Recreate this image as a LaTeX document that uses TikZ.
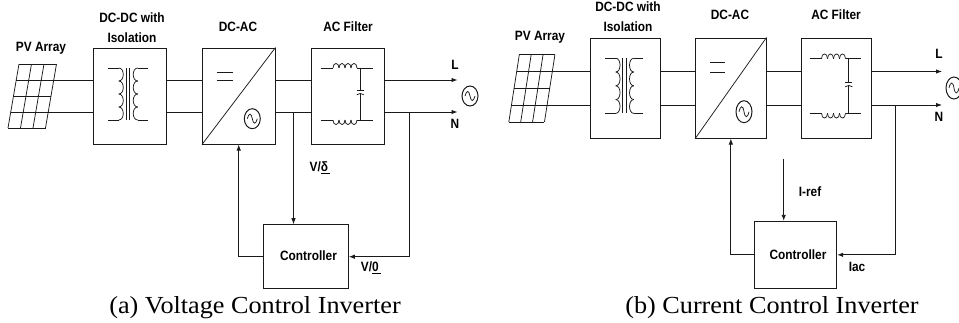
\documentclass[tikz,border=0pt]{standalone}
\usepackage{fontspec}
\setmainfont[FakeStretch=1.07]{Liberation Serif}
\setsansfont[FakeStretch=0.88]{Liberation Sans}
\usepackage{xcolor}
\usetikzlibrary{arrows.meta}
\definecolor{ink}{HTML}{1A1A1A}
\tikzset{
  wire/.style={draw=ink, line width=1pt},
  thinwire/.style={draw=ink, line width=0.75pt},
  feedwire/.style={draw=ink, line width=0.9pt, -{Latex[length=6pt,width=4.5pt]}},
  blockbox/.style={draw=ink, line width=1pt, inner sep=0pt},
  lbl/.style={text=black, font=\sffamily\bfseries\fontsize{13.5}{14}\selectfont, inner sep=0pt},
  sublbl/.style={lbl, font=\sffamily\bfseries\fontsize{13.5}{14}\selectfont},
  caption/.style={text=black, font=\fontsize{24.5}{26}\selectfont, inner sep=0pt, anchor=base},
  pvpanel/.pic={
    \foreach \i in {0,1,2,3}
      \draw[thinwire] ({12.5*\i},0) -- ({12.5*\i-11},64);
    \foreach \j in {0,1,2,3,4}
      \draw[thinwire] ({-11*\j/4},{16*\j}) -- ({37.5-11*\j/4},{16*\j});
  },
  xformer/.pic={
    \draw[thinwire] (-20,-26) -- (-9,-26);
    \draw[thinwire] (-20,26) -- (-9,26);
    \draw[thinwire] (20,-26) -- (10,-26);
    \draw[thinwire] (20,26) -- (10,26);
    \foreach \k in {0,1,2,3} {
      \draw[thinwire] (-9,{-26+13*\k}) .. controls (-3,{-26+13*\k}) and (-3,{-13+13*\k}) .. (-9,{-13+13*\k});
      \draw[thinwire] (10,{-26+13*\k}) .. controls (4,{-26+13*\k}) and (4,{-13+13*\k}) .. (10,{-13+13*\k});
    }
    \draw[thinwire] (-1.75,-26) -- (-1.75,26);
    \draw[thinwire] (1.75,-26) -- (1.75,26);
  },
  lcfilter/.pic={
    \draw[thinwire] (-27,-26) -- (-15,-26);
    \draw[thinwire] (9,-26) -- (24.7,-26);
    \draw[thinwire] (-27,26) -- (-15,26);
    \draw[thinwire] (9,26) -- (24.7,26);
    \foreach \k in {0,1,2,3} {
      \draw[thinwire] ({-15+6*\k},-26) .. controls ({-15+6*\k},-32) and ({-9+6*\k},-32) .. ({-9+6*\k},-26);
      \draw[thinwire] ({-15+6*\k},26) .. controls ({-15+6*\k},32) and ({-9+6*\k},32) .. ({-9+6*\k},26);
    }
    \draw[thinwire] (12.3,-26) -- (12.3,-3.5);
    \draw[thinwire] (8.7,-3.5) -- (15.9,-3.5);
    \draw[thinwire] (8.7,0.8) .. controls (11,-1) and (13.6,-1) .. (15.9,0.8);
    \draw[thinwire] (12.3,-0.4) -- (12.3,26);
  },
  acsource/.pic={
    \draw[wire] (0,0) ellipse (8 and 10);
    \draw[thinwire] (-5,0) .. controls (-3.5,-6) and (-1,-6) .. (0,0) .. controls (1,6) and (3.5,6) .. (5,0);
  }
}
\begin{document}
\begin{tikzpicture}[x=1pt,y=-1pt]
  \useasboundingbox (0,0) rectangle (959,322);

  % (a) voltage control
  \node[blockbox, minimum width=73pt, minimum height=96pt] (dcdcA) at (129.5,96) {};
  \node[blockbox, minimum width=72.5pt, minimum height=96pt] (dcacA) at (238.75,96) {};
  \node[blockbox, minimum width=73pt, minimum height=96pt] (filterA) at (348,96) {};
  \node[blockbox, minimum width=85pt, minimum height=64pt] (ctrlA) at (305.8,256.7) {};

  \coordinate (pvhiA) at (52.5,80);
  \coordinate (pvloA) at (47,112);
  \coordinate (lineA) at (457.5,80);
  \coordinate (neutA) at (457.5,112);
  \coordinate (tapA) at (293.5,112);
  \coordinate (fbkA) at (409.5,112);

  \pic at (19,64) {pvpanel};
  \pic at (127.75,94) {xformer};
  \pic at (348,94) {lcfilter};
  \pic at (252.3,118.7) {acsource};
  \pic at (470,96) {acsource};

  \draw[thinwire] (dcacA.south west) -- (dcacA.north east);
  \draw[thinwire] (217.3,72) -- (233.3,72);
  \draw[thinwire] (217.3,80.7) -- (233.3,80.7);

  \draw[wire] (pvhiA) -- (pvhiA -| dcdcA.west);
  \draw[wire] (pvloA) -- (pvloA -| dcdcA.west);
  \draw[wire] (dcdcA.east |- pvhiA) -- (dcacA.west |- pvhiA);
  \draw[wire] (dcdcA.east |- pvloA) -- (dcacA.west |- pvloA);
  \draw[wire] (dcacA.east |- pvhiA) -- (filterA.west |- pvhiA);
  \draw[wire] (dcacA.east |- pvloA) -- (filterA.west |- pvloA);
  \draw[feedwire] (filterA.east |- lineA) -- (lineA);
  \draw[feedwire] (filterA.east |- neutA) -- (neutA);
  \draw[feedwire] (tapA) -- (tapA |- ctrlA.north);
  \draw[feedwire] (ctrlA.west) -| (dcacA.south);
  \draw[feedwire] (fbkA) |- (ctrlA.east);

  \node[lbl] (pvA) at (41,48) {PV Array};
  \node[lbl] (isoA) at (132,18) {DC-DC with};
  \node[lbl] (isoB) at (132,38) {Isolation};
  \node[lbl] (invA) at (238,27) {DC-AC};
  \node[lbl] (acfA) at (348,27) {AC Filter};
  \node[lbl] (llA) at (455,65) {L};
  \node[lbl] (nnA) at (455,124) {N};
  \node[sublbl] (vdA) at (320,168) {V/\underline{δ\,}};
  \node[sublbl] (vzA) at (371,268) {V/\underline{0\,}};
  \node[sublbl] (ctA) at (308.5,256) {Controller};
  \node[caption] (capA) at (255,313) {(a) Voltage Control Inverter};

  % (b) current control
  \node[blockbox, minimum width=70.5pt, minimum height=100pt] (dcdcB) at (625.25,88) {};
  \node[blockbox, minimum width=70.3pt, minimum height=100pt] (dcacB) at (730.85,88) {};
  \node[blockbox, minimum width=70.4pt, minimum height=100pt] (filterB) at (836.5,88) {};
  \node[blockbox, minimum width=82.4pt, minimum height=67pt] (ctrlB) at (795.5,254.8) {};

  \coordinate (pvhiB) at (552,71.5);
  \coordinate (pvloB) at (546,105);
  \coordinate (lineB) at (942,71.5);
  \coordinate (neutB) at (942,105);
  \coordinate (fbkB) at (895,105);
  \coordinate (irefB) at (783.7,159);

  \pic[xscale=0.95,yscale=1.05] at (519.3,54.7) {pvpanel};
  \pic[xscale=0.95,yscale=1.06] at (624.3,85.8) {xformer};
  \pic[yscale=1.05] at (836.5,86) {lcfilter};
  \pic[yscale=1.1] at (744,111.7) {acsource};
  \pic[yscale=1.1] at (954,88) {acsource};

  \draw[thinwire] (dcacB.south west) -- (dcacB.north east);
  \draw[thinwire] (710,62.7) -- (725.3,62.7);
  \draw[thinwire] (710,72) -- (725.3,72);

  \draw[wire] (pvhiB) -- (pvhiB -| dcdcB.west);
  \draw[wire] (pvloB) -- (pvloB -| dcdcB.west);
  \draw[wire] (dcdcB.east |- pvhiB) -- (dcacB.west |- pvhiB);
  \draw[wire] (dcdcB.east |- pvloB) -- (dcacB.west |- pvloB);
  \draw[wire] (dcacB.east |- pvhiB) -- (filterB.west |- pvhiB);
  \draw[wire] (dcacB.east |- pvloB) -- (filterB.west |- pvloB);
  \draw[feedwire] (filterB.east |- lineB) -- (lineB);
  \draw[feedwire] (filterB.east |- neutB) -- (neutB);
  \draw[feedwire] (irefB) -- (irefB |- ctrlB.north);
  \draw[feedwire] (ctrlB.west) -| (dcacB.south);
  \draw[feedwire] (fbkB) |- (ctrlB.east);

  \node[lbl] (pvB) at (540,37) {PV Array};
  \node[lbl] (isoC) at (628,7) {DC-DC with};
  \node[lbl] (isoD) at (628,27) {Isolation};
  \node[lbl] (invB) at (730,15) {DC-AC};
  \node[lbl] (acfB) at (836,15) {AC Filter};
  \node[lbl] (llB) at (939,54) {L};
  \node[lbl] (nnB) at (939,117) {N};
  \node[sublbl] (irB) at (810,192) {I-ref};
  \node[sublbl] (iaB) at (857,267) {Iac};
  \node[sublbl] (ctB) at (798,255) {Controller};
  \node[caption] (capB) at (772,313) {(b) Current Control Inverter};
\end{tikzpicture}
\end{document}
